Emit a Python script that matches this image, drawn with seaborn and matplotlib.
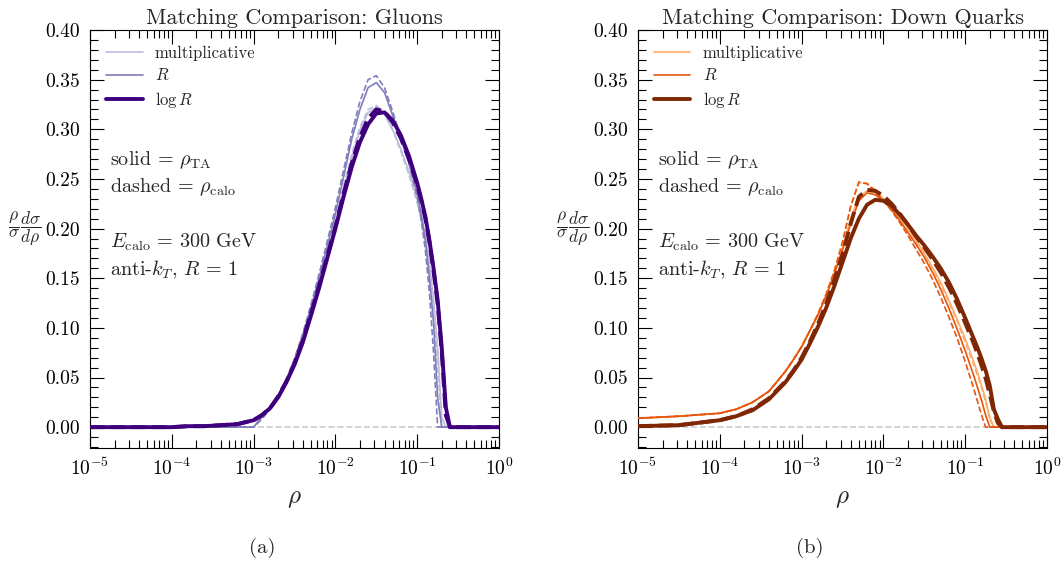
import numpy as np
import pandas as pd
import matplotlib
matplotlib.use("Agg")
import matplotlib.pyplot as plt
import seaborn as sns
from matplotlib.ticker import MultipleLocator, FormatStrFormatter, LogLocator, NullFormatter

# log10(rho) sample points shared by every curve
log_rho = [-5.0, -4.5, -4.0, -3.8, -3.6, -3.4,
           -3.2, -3.1, -3.0, -2.9, -2.8, -2.7, -2.6, -2.5, -2.4, -2.3, -2.2, -2.1,
           -2.0, -1.9, -1.8, -1.7, -1.6, -1.5, -1.4, -1.3, -1.2, -1.1, -1.0,
           -0.95, -0.9, -0.85, -0.8, -0.75, -0.7, -0.65, -0.6, -0.55, -0.5,
           0.0]

# ---- gluons ----
gluon_mult_ta = [0, 0, 0, 0, 0, 0,
                 0.000, 0.000, 0.000, 0.011, 0.020, 0.032, 0.047, 0.066, 0.089, 0.115, 0.144, 0.174,
                 0.205, 0.239, 0.271, 0.299, 0.317, 0.322, 0.315, 0.300, 0.280, 0.257, 0.230,
                 0.213, 0.193, 0.165, 0.128, 0.080, 0.010, 0.000, 0.000, 0.000, 0.000,
                 0.000]
gluon_mult_calo = [0, 0, 0, 0, 0, 0,
                   0.000, 0.000, 0.000, 0.009, 0.019, 0.031, 0.047, 0.067, 0.091, 0.118, 0.147, 0.178,
                   0.209, 0.243, 0.275, 0.302, 0.320, 0.324, 0.316, 0.299, 0.278, 0.254, 0.226,
                   0.208, 0.187, 0.157, 0.117, 0.062, 0.000, 0.000, 0.000, 0.000, 0.000,
                   0.000]
gluon_r_ta = [0, 0, 0, 0, 0, 0,
              0.000, 0.000, 0.000, 0.010, 0.020, 0.032, 0.048, 0.068, 0.092, 0.120, 0.150, 0.182,
              0.215, 0.252, 0.290, 0.320, 0.342, 0.347, 0.337, 0.314, 0.290, 0.266, 0.236,
              0.214, 0.188, 0.150, 0.105, 0.030, 0.000, 0.000, 0.000, 0.000, 0.000,
              0.000]
gluon_r_calo = [0, 0, 0, 0, 0, 0,
                0.000, 0.000, 0.000, 0.008, 0.018, 0.031, 0.048, 0.069, 0.094, 0.123, 0.154, 0.187,
                0.221, 0.259, 0.296, 0.328, 0.350, 0.354, 0.342, 0.318, 0.292, 0.265, 0.232,
                0.208, 0.178, 0.135, 0.075, 0.000, 0.000, 0.000, 0.000, 0.000, 0.000,
                0.000]
gluon_logr_ta = [0.000, 0.000, 0.000, 0.001, 0.001, 0.002,
                 0.003, 0.005, 0.007, 0.012, 0.019, 0.030, 0.045, 0.063, 0.085, 0.112, 0.140, 0.170,
                 0.200, 0.232, 0.262, 0.287, 0.305, 0.316, 0.317, 0.309, 0.294, 0.273, 0.246,
                 0.230, 0.212, 0.188, 0.160, 0.128, 0.080, 0.020, 0.000, 0.000, 0.000,
                 0.000]
gluon_logr_calo = [0.000, 0.000, 0.000, 0.001, 0.001, 0.002,
                   0.003, 0.005, 0.007, 0.012, 0.019, 0.031, 0.046, 0.064, 0.087, 0.114, 0.142, 0.172,
                   0.202, 0.235, 0.266, 0.292, 0.311, 0.320, 0.318, 0.307, 0.291, 0.270, 0.244,
                   0.228, 0.210, 0.186, 0.157, 0.124, 0.076, 0.012, 0.000, 0.000, 0.000,
                   0.000]

# ---- down quarks ----
quark_mult_ta = [0.009, 0.011, 0.014, 0.018, 0.025, 0.036,
                 0.056, 0.068, 0.081, 0.097, 0.113, 0.133, 0.155, 0.181, 0.210, 0.232, 0.238, 0.236,
                 0.230, 0.221, 0.211, 0.200, 0.188, 0.175, 0.161, 0.146, 0.128, 0.109, 0.089,
                 0.078, 0.067, 0.055, 0.042, 0.028, 0.010, 0.000, 0.000, 0.000, 0.000,
                 0.000]
quark_mult_calo = [0.009, 0.011, 0.014, 0.018, 0.025, 0.036,
                   0.056, 0.068, 0.081, 0.097, 0.114, 0.134, 0.158, 0.187, 0.223, 0.246, 0.246, 0.239,
                   0.230, 0.221, 0.211, 0.199, 0.187, 0.174, 0.160, 0.144, 0.126, 0.107, 0.086,
                   0.075, 0.064, 0.052, 0.040, 0.025, 0.008, 0.000, 0.000, 0.000, 0.000,
                   0.000]
quark_r_ta = [0.009, 0.011, 0.014, 0.018, 0.025, 0.036,
              0.056, 0.068, 0.081, 0.097, 0.113, 0.132, 0.154, 0.178, 0.205, 0.228, 0.236, 0.234,
              0.228, 0.219, 0.208, 0.196, 0.184, 0.171, 0.156, 0.139, 0.120, 0.099, 0.077,
              0.065, 0.053, 0.040, 0.027, 0.012, 0.000, 0.000, 0.000, 0.000, 0.000,
              0.000]
quark_r_calo = [0.009, 0.011, 0.014, 0.018, 0.025, 0.036,
                0.056, 0.068, 0.081, 0.097, 0.114, 0.134, 0.157, 0.186, 0.222, 0.247, 0.245, 0.237,
                0.228, 0.218, 0.206, 0.193, 0.179, 0.165, 0.149, 0.131, 0.111, 0.090, 0.066,
                0.053, 0.040, 0.026, 0.012, 0.000, 0.000, 0.000, 0.000, 0.000, 0.000,
                0.000]
quark_logr_ta = [0.001, 0.002, 0.007, 0.011, 0.017, 0.028,
                 0.045, 0.056, 0.068, 0.084, 0.101, 0.120, 0.142, 0.166, 0.190, 0.210, 0.224, 0.229,
                 0.228, 0.223, 0.214, 0.204, 0.193, 0.183, 0.172, 0.160, 0.146, 0.129, 0.110,
                 0.100, 0.090, 0.080, 0.069, 0.057, 0.042, 0.018, 0.008, 0.000, 0.000,
                 0.000]
quark_logr_calo = [0.001, 0.002, 0.007, 0.011, 0.018, 0.029,
                   0.046, 0.057, 0.070, 0.086, 0.104, 0.124, 0.148, 0.174, 0.205, 0.232, 0.239, 0.238,
                   0.233, 0.225, 0.215, 0.204, 0.192, 0.181, 0.169, 0.156, 0.141, 0.124, 0.105,
                   0.095, 0.085, 0.074, 0.062, 0.049, 0.033, 0.016, 0.004, 0.000, 0.000,
                   0.000]

schemes = ["multiplicative", r"$R$", r"$\log R$"]
panel_titles = ["Matching Comparison: Gluons", "Matching Comparison: Down Quarks"]
panel_tags = ["(a)", "(b)"]
purples = ["#bcbddc", "#807dba", "#3f007d"]
oranges = ["#fdae6b", "#e6550d", "#7f2704"]

panels = [
    {"ta": [gluon_mult_ta, gluon_r_ta, gluon_logr_ta],
     "calo": [gluon_mult_calo, gluon_r_calo, gluon_logr_calo],
     "colors": purples},
    {"ta": [quark_mult_ta, quark_r_ta, quark_logr_ta],
     "calo": [quark_mult_calo, quark_r_calo, quark_logr_calo],
     "colors": oranges},
]

sns.set_style("ticks")
plt.rcParams.update({
    "font.family": "serif",
    "font.serif": ["cmr10", "DejaVu Serif"],
    "mathtext.fontset": "cm",
    "axes.formatter.use_mathtext": True,
    "axes.unicode_minus": False,
    "axes.linewidth": 0.8,
    "axes.edgecolor": "black",
})

fig = plt.figure(figsize=(10.62, 5.63), dpi=100)
W, H = 1062.0, 563.0
ax_left_px = [90, 638]
ax_w_px = 409
ax_top_px, ax_bot_px = 30, 448
tag_x_px = [262, 810]

rho = 10.0 ** np.array(log_rho)
widths = [1.2, 1.2, 2.8]

for k, panel in enumerate(panels):
    ax = fig.add_axes([ax_left_px[k] / W, 1 - ax_bot_px / H,
                       ax_w_px / W, (ax_bot_px - ax_top_px) / H])
    ax.set_xscale("log")
    ax.axhline(0.0, color="#cccccc", ls="--", lw=1.2, zorder=0)

    handles = []
    for j, name in enumerate(schemes):
        col = panel["colors"][j]
        df_ta = pd.DataFrame({"rho": rho, "val": panel["ta"][j]})
        df_calo = pd.DataFrame({"rho": rho, "val": panel["calo"][j]})
        sns.lineplot(data=df_calo, x="rho", y="val", ax=ax, color=col,
                     lw=widths[j], linestyle="--", zorder=2 + j, sort=False)
        sns.lineplot(data=df_ta, x="rho", y="val", ax=ax, color=col,
                     lw=widths[j], zorder=2 + j, sort=False, label=name)
        handles.append(ax.lines[-1])

    ax.set_xlim(1e-5, 1.0)
    ax.set_ylim(-0.021, 0.40)
    ax.yaxis.set_major_locator(MultipleLocator(0.05))
    ax.yaxis.set_minor_locator(MultipleLocator(0.01))
    ax.yaxis.set_major_formatter(FormatStrFormatter("%.2f"))
    ax.xaxis.set_major_locator(LogLocator(base=10, numticks=10))
    ax.xaxis.set_minor_locator(LogLocator(base=10, subs=np.arange(2, 10), numticks=20))
    ax.xaxis.set_minor_formatter(NullFormatter())
    ax.tick_params(which="both", direction="in", top=True, right=True,
                   labelsize=14, width=0.8, colors="black")
    ax.tick_params(which="major", length=10, pad=7)
    ax.tick_params(which="minor", length=5.5)

    ax.set_title(panel_titles[k], fontsize=16, pad=4)
    ax.set_xlabel(r"$\rho$", fontsize=18, labelpad=6)
    ax.set_ylabel(r"$\dfrac{\rho}{\sigma}\dfrac{d\sigma}{d\rho}$", fontsize=12.5,
                  rotation=0, va="center", ha="center")
    ax.yaxis.set_label_coords(-0.16, 0.525)

    ax.legend(handles=handles, labels=schemes, loc="upper left", frameon=False,
              fontsize=12, handlelength=2.2, handletextpad=0.75, labelspacing=0.38,
              borderaxespad=0.55, bbox_to_anchor=(0.0, 1.0))

    txt = dict(transform=ax.transAxes, fontsize=14.5, ha="left", va="center")
    ax.text(0.049, 0.689, r"solid = $\rho_{\rm TA}$", **txt)
    ax.text(0.049, 0.624, r"dashed = $\rho_{\rm calo}$", **txt)
    ax.text(0.049, 0.493, r"$E_{\rm calo}\,=\,300$ GeV", **txt)
    ax.text(0.049, 0.426, r"anti-$k_T$, $R\,=\,1$", **txt)

    fig.text(tag_x_px[k] / W, 1 - 548 / H, panel_tags[k], fontsize=15,
             ha="center", va="center")

fig.savefig("out.png", dpi=100)
